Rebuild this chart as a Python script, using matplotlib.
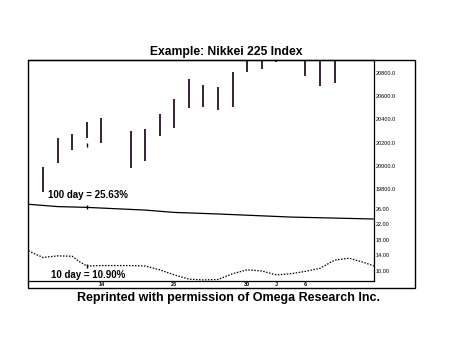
import matplotlib
matplotlib.use("Agg")
import matplotlib.pyplot as plt
from matplotlib.patches import Rectangle

plt.rcParams["font.family"] = ["Liberation Sans", "DejaVu Sans"]

# ── Data ──────────────────────────────────────────────────────────────────────
bar_idx = [0, 1, 2, 3, 4, 6, 7, 8, 9, 10, 11, 12, 13, 14, 15, 16, 18, 19, 20]
bar_high = [19990, 20240, 20274, 20378, 20412, 20300, 20317, 20447, 20576, 20748,
            20697, 20679, 20809, 20990, 21000, 21000, 20990, 20990, 20990]
bar_low = [19774, 20024, 20136, 20240, 20197, 19981, 20041, 20257, 20326, 20498,
           20507, 20481, 20507, 20809, 20834, 20895, 20774, 20688, 20714]

hv100_x = [-1, 1, 3, 7, 9, 12, 17, 22.7]
hv100_y = [27.2, 26.6, 26.4, 25.7, 25.1, 24.7, 23.9, 23.4]

hv10_x = [-1, -0.5, 0, 1, 2, 2.5, 3, 4, 5, 6, 7, 8, 9, 10, 11, 12, 13, 14, 15,
          16, 17, 18, 19, 20, 21, 22, 22.7]
hv10_y = [15.2, 14.3, 13.5, 13.9, 13.8, 12.4, 11.3, 11.4, 11.4, 11.4, 11.3, 10.3,
          9.0, 7.9, 7.7, 7.8, 9.3, 10.3, 10.0, 9.0, 9.3, 9.9, 10.7, 12.8, 13.3,
          12.2, 11.3]

price_ticks = [19800, 20000, 20200, 20400, 20600, 20800]
vol_ticks = [10, 14, 18, 22, 26]
date_pos = [4, 9, 14, 16, 18]
date_labels = ["14", "23", "30", "J", "6"]

# ── Figure ────────────────────────────────────────────────────────────────────
W, H = 450, 350
fig = plt.figure(figsize=(4.5, 3.5), dpi=100)


def box(x0, y0, x1, y1):
    # pixel box (top-left origin) -> figure fraction [left, bottom, width, height]
    return [x0 / W, 1 - y1 / H, (x1 - x0) / W, (y1 - y0) / H]


ax_p = fig.add_axes(box(28, 60, 374, 200))
ax_v = fig.add_axes(box(28, 200, 374, 281), sharex=ax_p)

bar_color = "#2a1025"
ax_p.vlines(bar_idx, bar_low, bar_high, color=bar_color, linewidth=1.3)
ax_p.plot([3], [20180], marker="|", color="black", markersize=3, mew=1)
ax_p.set_ylim(19705, 20912)
ax_p.set_xlim(-1.03, 22.7)

ax_v.plot(hv100_x, hv100_y, color="black", linewidth=0.9)
ax_v.plot(hv10_x, hv10_y, color="black", linewidth=0.9, linestyle=(0, (1.2, 1.2)))
ax_v.plot([3, 3], [26.4, 11.3], linestyle="none", marker="|", color="black",
          markersize=3, mew=1)
ax_v.set_ylim(7.42, 28.3)

for ax in (ax_p, ax_v):
    ax.yaxis.tick_right()
    ax.tick_params(axis="y", length=0, pad=1, labelsize=4)
    ax.tick_params(axis="x", length=0, pad=1, labelsize=4)
    for s in ax.spines.values():
        s.set_linewidth(0.9)

ax_p.spines["bottom"].set_visible(False)
ax_p.spines["left"].set_visible(False)
ax_v.spines["top"].set_visible(False)
ax_v.spines["left"].set_visible(False)
ax_p.tick_params(axis="x", labelbottom=False)

ax_p.set_yticks(price_ticks)
ax_p.set_yticklabels([f"{v:.1f}" for v in price_ticks])
ax_v.set_yticks(vol_ticks)
ax_v.set_yticklabels([f"{v:.2f}" for v in vol_ticks])
ax_v.set_xticks(date_pos)
ax_v.set_xticklabels(date_labels, fontweight="bold")

# outer frame
fig.patches.append(Rectangle((28 / W, 1 - 288 / H), (415 - 28) / W, (288 - 60) / H,
                             transform=fig.transFigure, fill=False,
                             edgecolor="black", linewidth=1.0))

fig.text(48 / W, 1 - 195.5 / H, "100 day = 25.63%", fontsize=7,
         fontweight="bold", va="center", ha="left")
fig.text(51 / W, 1 - 275 / H, "10 day = 10.90%", fontsize=7,
         fontweight="bold", va="center", ha="left")

fig.text(226 / W, 1 - 52 / H, "Example: Nikkei 225 Index", fontsize=8.7,
         fontweight="bold", ha="center", va="center")
fig.text(228 / W, 1 - 298 / H, "Reprinted with permission of Omega Research Inc.",
         fontsize=9, fontweight="bold", ha="center", va="center")

fig.savefig("out.png", dpi=100)
